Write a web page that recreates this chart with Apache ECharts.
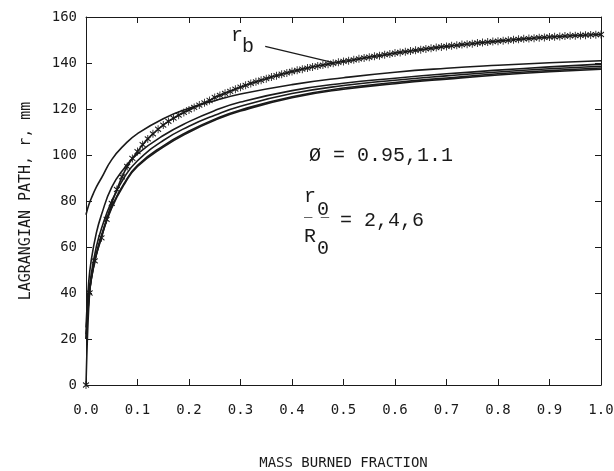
<!DOCTYPE html>
<html>
<head>
<meta charset="utf-8">
<script src="https://cdn.jsdelivr.net/npm/echarts@6/dist/echarts.min.js"></script>
<style>html,body{margin:0;padding:0;background:#fff;}#chart{width:614px;height:471px;}</style>
</head>
<body>
<div id="chart"></div>
<script>
// ---- data ----
const xTicks = ['0.0','0.1','0.2','0.3','0.4','0.5','0.6','0.7','0.8','0.9','1.0'];
const yTicks = [0,20,40,60,80,100,120,140,160];

// shared x positions for the solid Lagrangian-path curves
const xPath = [0,0.005,0.01,0.02,0.03,0.05,0.075,0.1,0.15,0.2,0.25,0.3,0.4,0.5,0.6,0.7,0.8,0.9,1.0];
const pathA  = [74,78,81,86,90,98,104.5,109.3,115.8,120.3,123.6,126.5,130.6,133.6,136,137.7,139,140.1,141];
const pathB  = [25,44,54,66,74,86,94.5,100.5,108.5,114.5,119.3,123,128,131.2,133.4,135.3,136.9,138.3,139.5];
const pathC  = [22,38,48,60,68,80,90.5,97.5,106.3,112.5,117.3,121.2,126.7,130.2,132.5,134.4,136.1,137.5,138.6];
const pathD1 = [20,36,46,57,65,77.5,88,95.5,104,110.4,115.6,119.6,125.3,129.1,131.5,133.5,135.3,136.7,137.8];
const pathD2 = [20,35.5,45.5,56.5,64.5,77,87.5,95,103.4,109.9,115.1,119.1,124.9,128.6,131,133,134.8,136.2,137.3];

// burned-gas radius r_b (marked curve)
const xRb = [0,0.007,0.017,0.03,0.04,0.05,0.06,0.07,0.08,0.09,0.10,0.11,0.12,0.13,0.14,0.15,0.16,0.17,0.18,0.19,0.20,
  0.21,0.22,0.23,0.24,0.25,0.26,0.27,0.28,0.29,0.30,0.31,0.32,0.33,0.34,0.35,0.36,0.37,0.38,0.39,0.40,
  0.41,0.42,0.43,0.44,0.45,0.46,0.47,0.48,0.49,0.50,0.51,0.52,0.53,0.54,0.55,0.56,0.57,0.58,0.59,0.60,
  0.61,0.62,0.63,0.64,0.65,0.66,0.67,0.68,0.69,0.70,0.71,0.72,0.73,0.74,0.75,0.76,0.77,0.78,0.79,0.80,
  0.81,0.82,0.83,0.84,0.85,0.86,0.87,0.88,0.89,0.90,0.91,0.92,0.93,0.94,0.95,0.96,0.97,0.98,0.99,1.00];
const rb = [0,40,54,64,72,79,85,90.5,95,98.5,101.5,104.5,107,109.2,111.2,113,114.6,116,117.3,118.5,119.6,
  120.7,121.7,122.7,123.7,125,125.9,126.8,127.7,128.6,129.5,130.3,131.1,131.8,132.5,133.2,133.9,134.5,135.1,135.7,136.3,
  136.8,137.3,137.8,138.3,138.7,139.1,139.5,139.9,140.3,140.7,141,141.4,141.8,142.2,142.5,142.9,143.2,143.6,143.9,144.3,
  144.6,144.9,145.2,145.5,145.8,146.1,146.4,146.7,147,147.2,147.5,147.7,148,148.2,148.4,148.7,148.9,149.1,149.3,149.5,
  149.7,149.9,150.1,150.3,150.5,150.6,150.8,151,151.1,151.3,151.4,151.5,151.7,151.8,151.9,152,152.1,152.2,152.3,152.4];

// leader line from the r_b label to the curve
const leaderX = [0.348, 0.478];
const leaderY = [147.2, 140.3];

// ---- chart ----
const ink = '#1a1a1a';
const labelFont = '"DejaVu Sans Mono", monospace';
const noteFont = '"Liberation Mono", "Courier New", monospace';

function pairs(xs, ys){ return xs.map((x,i)=>[x, ys[i]]); }

const chart = echarts.init(document.getElementById('chart'), null, {renderer:'canvas'});

const solid = (data) => ({
  type:'line', data, showSymbol:false, smooth:0.5,
  lineStyle:{color:ink, width:1.6}, silent:true, z:2
});

const asterisk = 'path://M5,0 L5,10 M1,2 L9,8 M1,8 L9,2';

const option = {
  animation:false,
  backgroundColor:'#ffffff',
  grid:{left:86, right:13, top:17, bottom:86, show:false, containLabel:false, outerBoundsMode:'none'},
  xAxis:[{
    type:'value', min:0, max:1, interval:0.1, position:'bottom',
    axisLine:{show:true, onZero:false, lineStyle:{color:ink, width:1}},
    axisTick:{show:true, inside:true, length:6, lineStyle:{color:ink}},
    splitLine:{show:false},
    axisLabel:{margin:18, color:ink, fontFamily:labelFont, fontSize:14,
      formatter:(v)=>xTicks[Math.round(v*10)]},
    name:'MASS BURNED FRACTION', nameLocation:'middle', nameGap:71,
    nameTextStyle:{color:ink, fontFamily:labelFont, fontSize:14}
  },{
    type:'value', min:0, max:1, interval:0.1, position:'top',
    axisLine:{show:true, onZero:false, lineStyle:{color:ink, width:1}},
    axisTick:{show:true, inside:true, length:6, lineStyle:{color:ink}},
    axisLabel:{show:false}, splitLine:{show:false}
  }],
  yAxis:[{
    type:'value', min:0, max:160, interval:20, position:'left',
    axisLine:{show:true, onZero:false, lineStyle:{color:ink, width:1}},
    axisTick:{show:true, inside:true, length:6, lineStyle:{color:ink}},
    splitLine:{show:false},
    axisLabel:{margin:9, color:ink, fontFamily:labelFont, fontSize:14,
      formatter:(v)=>String(yTicks[Math.round(v/20)])},
    name:'LAGRANGIAN PATH, r, mm', nameLocation:'middle', nameGap:52,
    nameTextStyle:{color:ink, fontFamily:labelFont, fontSize:15}
  },{
    type:'value', min:0, max:160, interval:20, position:'right',
    axisLine:{show:true, onZero:false, lineStyle:{color:ink, width:1}},
    axisTick:{show:true, inside:true, length:6, lineStyle:{color:ink}},
    axisLabel:{show:false}, splitLine:{show:false}
  }],
  series:[
    solid(pairs(xPath, pathA)),
    solid(pairs(xPath, pathB)),
    solid(pairs(xPath, pathC)),
    solid(pairs(xPath, pathD1)),
    solid(pairs(xPath, pathD2)),
    {
      type:'line', data:pairs(xRb, rb), smooth:0.3,
      symbol:asterisk, symbolSize:[6,8], showAllSymbol:true,
      itemStyle:{color:'transparent', borderColor:ink, borderWidth:1},
      lineStyle:{color:ink, width:1.6}, silent:true, z:3
    },
    {
      type:'line', data:pairs(leaderX, leaderY), showSymbol:false,
      lineStyle:{color:ink, width:1.2}, silent:true, z:3
    }
  ],
  graphic:[
    {type:'text', left:231, top:26, style:{text:'r', font:'20px '+noteFont, fill:ink}},
    {type:'text', left:242, top:37, style:{text:'b', font:'20px '+noteFont, fill:ink}},
    {type:'text', left:309, top:146, style:{text:'Ø = 0.95,1.1', font:'20px '+noteFont, fill:ink}},
    {type:'text', left:304, top:187, style:{text:'r', font:'20px '+noteFont, fill:ink}},
    {type:'text', left:317, top:200, style:{text:'0', font:'20px '+noteFont, fill:ink}},
    {type:'text', left:304, top:205, style:{text:'_ _', font:'14px '+noteFont, fill:ink}},
    {type:'text', left:304, top:227, style:{text:'R', font:'20px '+noteFont, fill:ink}},
    {type:'text', left:317, top:239, style:{text:'0', font:'20px '+noteFont, fill:ink}},
    {type:'text', left:340, top:211, style:{text:'= 2,4,6', font:'20px '+noteFont, fill:ink}}
  ]
};
chart.setOption(option);
</script>
</body>
</html>
